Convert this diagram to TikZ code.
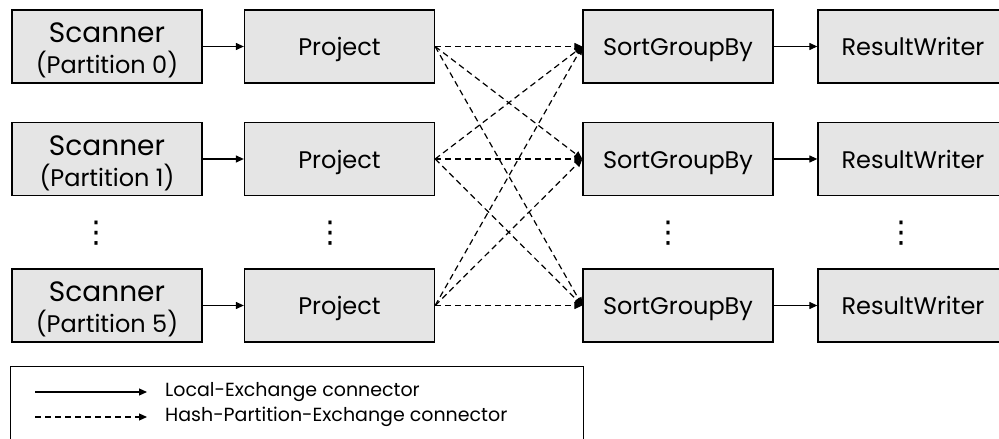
\documentclass[tikz,border=0pt]{standalone}
\usepackage{fontspec}
\setmainfont{Poppins}
\newfontfamily\dotsfont{DejaVu Sans}
\usetikzlibrary{arrows.meta}
\begin{document}
\begin{tikzpicture}[x=1bp,y=-1bp,
  opbox/.style={draw=black,line width=1.3bp,fill=black!10,minimum width=190bp,minimum height=73bp,inner sep=0pt,align=center},
  onetext/.style={font=\fontsize{24bp}{28bp}\selectfont,text height=19bp,text depth=0bp},
  scantext/.style={font=\fontsize{28bp}{31bp}\selectfont,text height=55bp,text depth=0bp},
  solidarrow/.style={line width=1.2bp,-{Triangle[length=8bp,width=7bp]}},
  hasharrow/.style={line width=1.2bp,dash pattern=on 6bp off 4bp,-{Triangle[length=8bp,width=7bp]}},
  vdotsnode/.style={inner sep=0pt,font=\dotsfont\fontsize{30bp}{32bp}\selectfont},
  legtxt/.style={font=\fontsize{19bp}{22bp}\selectfont,anchor=west,inner sep=0pt}]
\useasboundingbox (0,0) rectangle (999,439);
% row centres: 46.5, 159, 305.5
\foreach \r/\y/\p in {0/46.5/0,1/159/1,2/305.5/5}{
  \node[opbox,scantext] (scan\r) at (107,\y) {Scanner\\{\fontsize{24bp}{31bp}\selectfont (Partition \p)}};
  \node[opbox,onetext] (proj\r) at (339.5,\y) {Project};
  \node[opbox,onetext] (sort\r) at (678,\y) {SortGroupBy};
  \node[opbox,onetext] (res\r) at (913,\y) {ResultWriter};
  \draw[solidarrow] (scan\r.east) -- (proj\r.west);
  \draw[solidarrow] (sort\r.east) -- (res\r.west);
}
\foreach \a in {0,1,2}{
  \foreach \b in {0,1,2}{
    \draw[hasharrow] (proj\a.east) -- (sort\b.west);
  }
}
% vertical ellipses
\node[vdotsnode] (dots1) at (96,233) {⋮};
\node[vdotsnode] (dots2) at (330,233) {⋮};
\node[vdotsnode] (dots3) at (668,233) {⋮};
\node[vdotsnode] (dots4) at (901,233) {⋮};
% legend
\node[draw=black,line width=1.3bp,minimum width=573bp,minimum height=120bp,anchor=north west,inner sep=0pt] (legend) at (10,366) {};
\coordinate (l1a) at (35,392);
\coordinate (l1b) at (147,392);
\coordinate (l2a) at (35,417);
\coordinate (l2b) at (147,417);
\draw[solidarrow] (l1a) -- (l1b);
\draw[hasharrow] (l2a) -- (l2b);
\node[legtxt] (leg1) at (165,392) {Local-Exchange connector};
\node[legtxt] (leg2) at (165,417) {Hash-Partition-Exchange connector};
\end{tikzpicture}
\end{document}
